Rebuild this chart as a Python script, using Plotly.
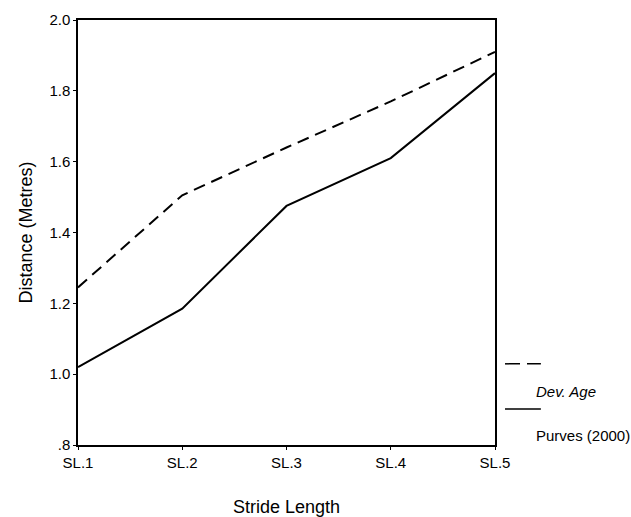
import plotly.graph_objects as go

categories = ["SL.1", "SL.2", "SL.3", "SL.4", "SL.5"]
dev_age = [1.245, 1.505, 1.64, 1.77, 1.91]
purves = [1.02, 1.185, 1.475, 1.61, 1.85]
series_names = ["Dev. Age", "Purves (2000)"]
y_tick_vals = [0.8, 1.0, 1.2, 1.4, 1.6, 1.8, 2.0]
y_tick_text = [".8", "1.0", "1.2", "1.4", "1.6", "1.8", "2.0"]

FONT = "Liberation Sans, Arial, sans-serif"

fig = go.Figure()
fig.add_trace(go.Scatter(x=categories, y=dev_age, mode="lines", name=series_names[0],
                         line=dict(color="black", width=2, dash="12px,7px"), showlegend=False))
fig.add_trace(go.Scatter(x=categories, y=purves, mode="lines", name=series_names[1],
                         line=dict(color="black", width=2), showlegend=False))

# legend drawn manually (samples above labels, as in the reference)
fig.add_shape(type="line", xref="paper", yref="paper", x0=1.024, x1=1.11, y0=0.191, y1=0.191,
              line=dict(color="black", width=1.5, dash="15px,7px"))
fig.add_shape(type="line", xref="paper", yref="paper", x0=1.024, x1=1.11, y0=0.085, y1=0.085,
              line=dict(color="black", width=1.5))
fig.add_annotation(text="<i>" + series_names[0] + "</i>", xref="paper", yref="paper",
                   x=1.094, y=0.125, xanchor="left", yanchor="middle", showarrow=False,
                   font=dict(family=FONT, size=15, color="black"))
fig.add_annotation(text=series_names[1], xref="paper", yref="paper",
                   x=1.094, y=0.0235, xanchor="left", yanchor="middle", showarrow=False,
                   font=dict(family=FONT, size=15, color="black"))

fig.update_layout(
    width=631, height=517,
    margin=dict(l=78, r=136, t=20, b=72, autoexpand=False),
    paper_bgcolor="white", plot_bgcolor="white",
    font=dict(family=FONT, size=15, color="black"),
    showlegend=False,
)
fig.update_xaxes(
    type="category", range=[0, 4], automargin=False,
    showline=True, linecolor="black", linewidth=1.5, mirror=True,
    ticks="outside", ticklen=3, tickcolor="black", showgrid=False, zeroline=False,
    tickfont=dict(size=15),
    title=dict(text="Stride Length", font=dict(size=18), standoff=32),
)
fig.update_yaxes(
    range=[0.8, 2.0], tickvals=y_tick_vals, ticktext=y_tick_text, automargin=False,
    showline=True, linecolor="black", linewidth=1.5, mirror=True,
    ticks="outside", ticklen=3, tickcolor="black", showgrid=False, zeroline=False,
    tickfont=dict(size=15),
    title=dict(text="Distance (Metres)", font=dict(size=18), standoff=12),
)

fig.write_html("out.html", config={"displayModeBar": False},
               post_script="document.body.style.margin='0';document.body.style.overflow='hidden';")
